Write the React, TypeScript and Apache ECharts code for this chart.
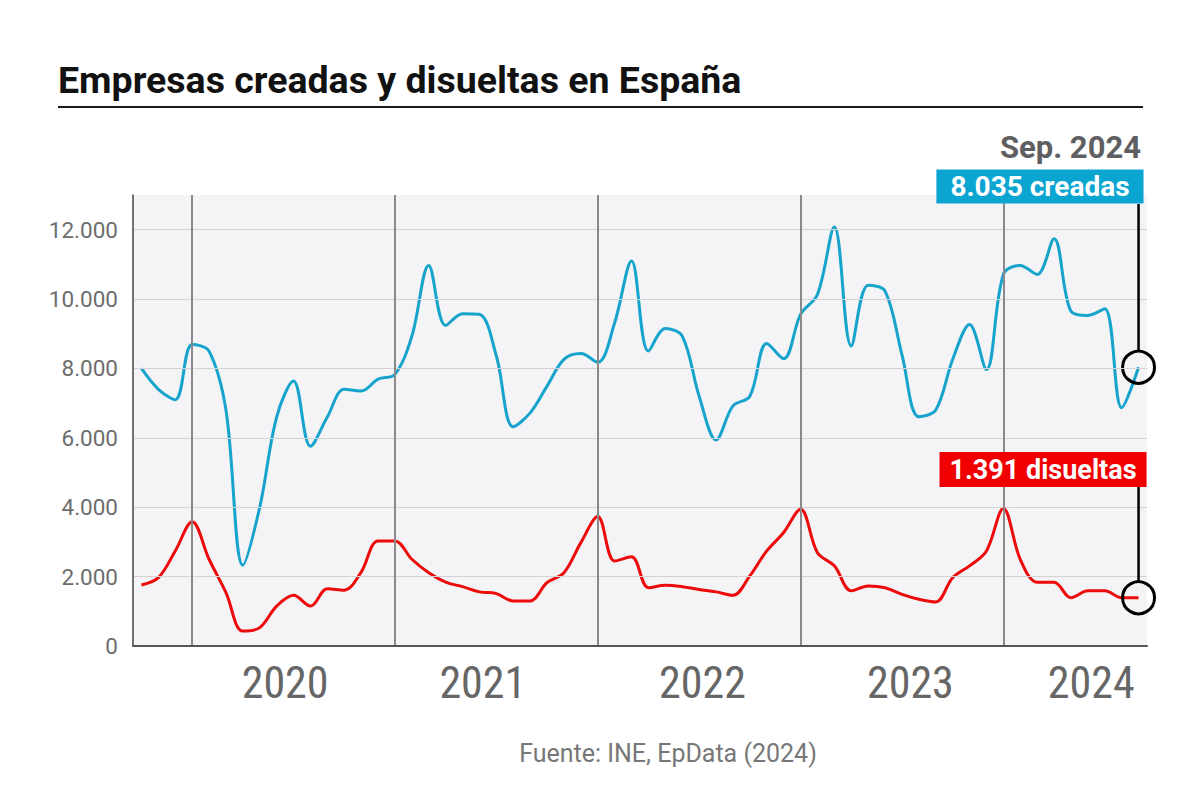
import React, { useEffect, useRef } from 'react';
import * as echarts from 'echarts';

const months = [
  'Oct 2019', 'Nov 2019', 'Dec 2019',
  'Jan 2020', 'Feb 2020', 'Mar 2020', 'Apr 2020', 'May 2020', 'Jun 2020', 'Jul 2020', 'Aug 2020', 'Sep 2020', 'Oct 2020', 'Nov 2020', 'Dec 2020',
  'Jan 2021', 'Feb 2021', 'Mar 2021', 'Apr 2021', 'May 2021', 'Jun 2021', 'Jul 2021', 'Aug 2021', 'Sep 2021', 'Oct 2021', 'Nov 2021', 'Dec 2021',
  'Jan 2022', 'Feb 2022', 'Mar 2022', 'Apr 2022', 'May 2022', 'Jun 2022', 'Jul 2022', 'Aug 2022', 'Sep 2022', 'Oct 2022', 'Nov 2022', 'Dec 2022',
  'Jan 2023', 'Feb 2023', 'Mar 2023', 'Apr 2023', 'May 2023', 'Jun 2023', 'Jul 2023', 'Aug 2023', 'Sep 2023', 'Oct 2023', 'Nov 2023', 'Dec 2023',
  'Jan 2024', 'Feb 2024', 'Mar 2024', 'Apr 2024', 'May 2024', 'Jun 2024', 'Jul 2024', 'Aug 2024', 'Sep 2024',
];

const creadas = [
  8000, 7400, 7100,
  8690, 8500, 6800, 2330, 4000, 6600, 7640, 5760, 6600, 7400, 7350, 7690,
  7830, 8930, 10970, 9240, 9580, 9560, 8360, 6320, 6720, 7490, 8260, 8430,
  8180, 9320, 11100, 8500, 9150, 8930, 7200, 5940, 6920, 7200, 8720, 8280,
  9560, 10130, 12080, 8650, 10400, 10230, 8400, 6610, 6800, 8260, 9270, 7970,
  10710, 10970, 10710, 11740, 9650, 9530, 9720, 6870, 8035,
];

const disueltas = [
  1760, 1970, 2740,
  3580, 2500, 1540, 430, 530, 1150, 1460, 1150, 1650, 1610, 2130, 3030,
  3030, 2500, 2110, 1840, 1710, 1560, 1510, 1300, 1300, 1830, 2110, 2980,
  3730, 2450, 2570, 1680, 1750, 1710, 1630, 1560, 1460, 2020, 2740, 3270,
  3940, 2690, 2310, 1590, 1730, 1680, 1490, 1350, 1270, 1970, 2310, 2740,
  3960, 2500, 1840, 1840, 1390, 1590, 1590, 1390, 1391,
];

const yearStarts = ['Jan 2020', 'Jan 2021', 'Jan 2022', 'Jan 2023', 'Jan 2024'];
const yearLabels = ['2020', '2021', '2022', '2023', '2024'];
const yearLabelPos = [8.5, 20.2, 33.2, 45.5, 56.2];
const yTicks = [0, 2000, 4000, 6000, 8000, 10000, 12000];

const BLUE = '#16a3cc';
const BLUE_BOX = '#0ba5d2';
const RED = '#ec0a0a';
const RED_BOX = '#f00000';

const fmt = (v: number) => String(v).replace(/\B(?=(\d{3})+(?!\d))/g, '.');

export default function App() {
  const ref = useRef<HTMLDivElement>(null);

  useEffect(() => {
    if (!ref.current) return;
    const chart = echarts.init(ref.current, undefined, { renderer: 'svg' });
    const last = months.length - 1;
    const endSymbol = {
      symbol: 'circle',
      symbolSize: 32,
      itemStyle: { color: 'rgba(0,0,0,0)', borderColor: '#000', borderWidth: 3 },
    };

    const option: any = {
      animation: false,
      backgroundColor: '#ffffff',
      grid: {
        left: 133, right: 53, top: 195, bottom: 159,
        show: true, backgroundColor: '#f4f3f6', borderWidth: 0,
      },
      xAxis: [
        {
          type: 'category',
          data: months,
          boundaryGap: true,
          axisLine: { show: true, onZero: false, lineStyle: { color: '#555555', width: 2 } },
          axisTick: { show: false },
          axisLabel: { show: false },
          splitLine: { show: false },
          z: 5,
        },
        {
          type: 'value',
          position: 'bottom',
          min: -0.5,
          max: months.length - 0.5,
          axisLine: { show: false, onZero: false },
          axisTick: { show: false },
          splitLine: { show: false },
          axisLabel: {
            customValues: yearLabelPos,
            formatter: (v: number) => yearLabels[yearLabelPos.indexOf(v)] ?? '',
            fontFamily: "'Liberation Sans Narrow', 'Roboto Condensed', 'DejaVu Sans Condensed', sans-serif",
            fontSize: 44,
            color: '#666666',
            margin: 15,
          },
        },
      ],
      yAxis: {
        type: 'value',
        min: 0,
        max: 13000,
        axisLine: { show: true, onZero: false, lineStyle: { color: '#444444', width: 1.5 } },
        axisTick: { show: false },
        splitLine: { show: false },
        axisLabel: {
          customValues: yTicks,
          formatter: (v: number) => fmt(v),
          color: '#6d6d6d',
          fontSize: 22.5,
          fontFamily: 'Roboto, sans-serif',
          margin: 15,
        },
        z: 5,
      },
      graphic: [
        {
          type: 'text',
          style: {
            text: 'Empresas creadas y disueltas en España',
            x: 58, y: 80, verticalAlign: 'middle',
            font: 'bold 37.5px Roboto, sans-serif', fill: '#111111',
          },
        },
        {
          type: 'line',
          shape: { x1: 58, y1: 107, x2: 1143, y2: 107 },
          style: { stroke: '#1a1a1a', lineWidth: 2 },
        },
        {
          type: 'text',
          style: {
            text: 'Fuente: INE, EpData (2024)',
            x: 668, y: 753, align: 'center', verticalAlign: 'middle',
            font: '25px Roboto, sans-serif', fill: '#777777',
          },
        },
        {
          type: 'text',
          style: {
            text: 'Sep. 2024',
            x: 1141, y: 147, align: 'right', verticalAlign: 'middle',
            font: 'bold 31px Roboto, sans-serif', fill: '#5f5f63',
          },
        },
      ],
      series: [
        {
          type: 'line',
          name: 'guides',
          data: [],
          z: 1,
          silent: true,
          markLine: {
            silent: true,
            symbol: 'none',
            animation: false,
            label: { show: false },
            data: [
              ...yTicks.filter((t) => t > 0).map((t) => ({
                yAxis: t,
                lineStyle: { color: '#d3d3d6', width: 1, type: 'solid' },
              })),
              ...yearStarts.map((m) => ({
                xAxis: m,
                lineStyle: { color: '#8a8a8c', width: 2, type: 'solid' },
              })),
            ],
          },
        },
        {
          type: 'line',
          name: 'Creadas',
          data: creadas.map((v, i) => (i === last ? { value: v, ...endSymbol } : v)),
          symbol: 'none',
          showAllSymbol: true,
          smooth: 0.35,
          lineStyle: { color: BLUE, width: 3 },
          itemStyle: { color: BLUE },
          z: 3,
        },
        {
          type: 'line',
          name: 'Disueltas',
          data: disueltas.map((v, i) => (i === last ? { value: v, ...endSymbol } : v)),
          symbol: 'none',
          showAllSymbol: true,
          smooth: 0.35,
          lineStyle: { color: RED, width: 3 },
          itemStyle: { color: RED },
          z: 3,
        },
      ],
    };

    chart.setOption(option);

    const pB = chart.convertToPixel({ seriesIndex: 1 }, [last, creadas[last]]) as number[];
    const pR = chart.convertToPixel({ seriesIndex: 2 }, [last, disueltas[last]]) as number[];
    const r = 17;

    chart.setOption({
      graphic: [
        ...option.graphic,
        {
          type: 'line',
          shape: { x1: pB[0], y1: 204, x2: pB[0], y2: pB[1] - r },
          style: { stroke: '#000000', lineWidth: 2.5 },
          z: 10,
        },
        {
          type: 'text',
          z: 11,
          style: {
            text: `${fmt(creadas[last])} creadas`,
            x: pB[0] + 5, y: 186.5, align: 'right', verticalAlign: 'middle',
            font: 'bold 28px Roboto, sans-serif', fill: '#ffffff',
            backgroundColor: BLUE_BOX, padding: [3, 14, 3, 14],
          },
        },
        {
          type: 'line',
          shape: { x1: pR[0], y1: 486, x2: pR[0], y2: pR[1] - r },
          style: { stroke: '#000000', lineWidth: 2.5 },
          z: 10,
        },
        {
          type: 'text',
          z: 11,
          style: {
            text: `${fmt(disueltas[last])} disueltas`,
            x: pR[0] + 8, y: 469.5, align: 'right', verticalAlign: 'middle',
            font: 'bold 27px Roboto, sans-serif', fill: '#ffffff',
            backgroundColor: RED_BOX, padding: [4, 10, 4, 10],
          },
        },
      ],
    });

    return () => chart.dispose();
  }, []);

  return (
    <div
      ref={ref}
      style={{ position: 'fixed', left: 0, top: 0, width: 1200, height: 805, background: '#fff' }}
    />
  );
}
